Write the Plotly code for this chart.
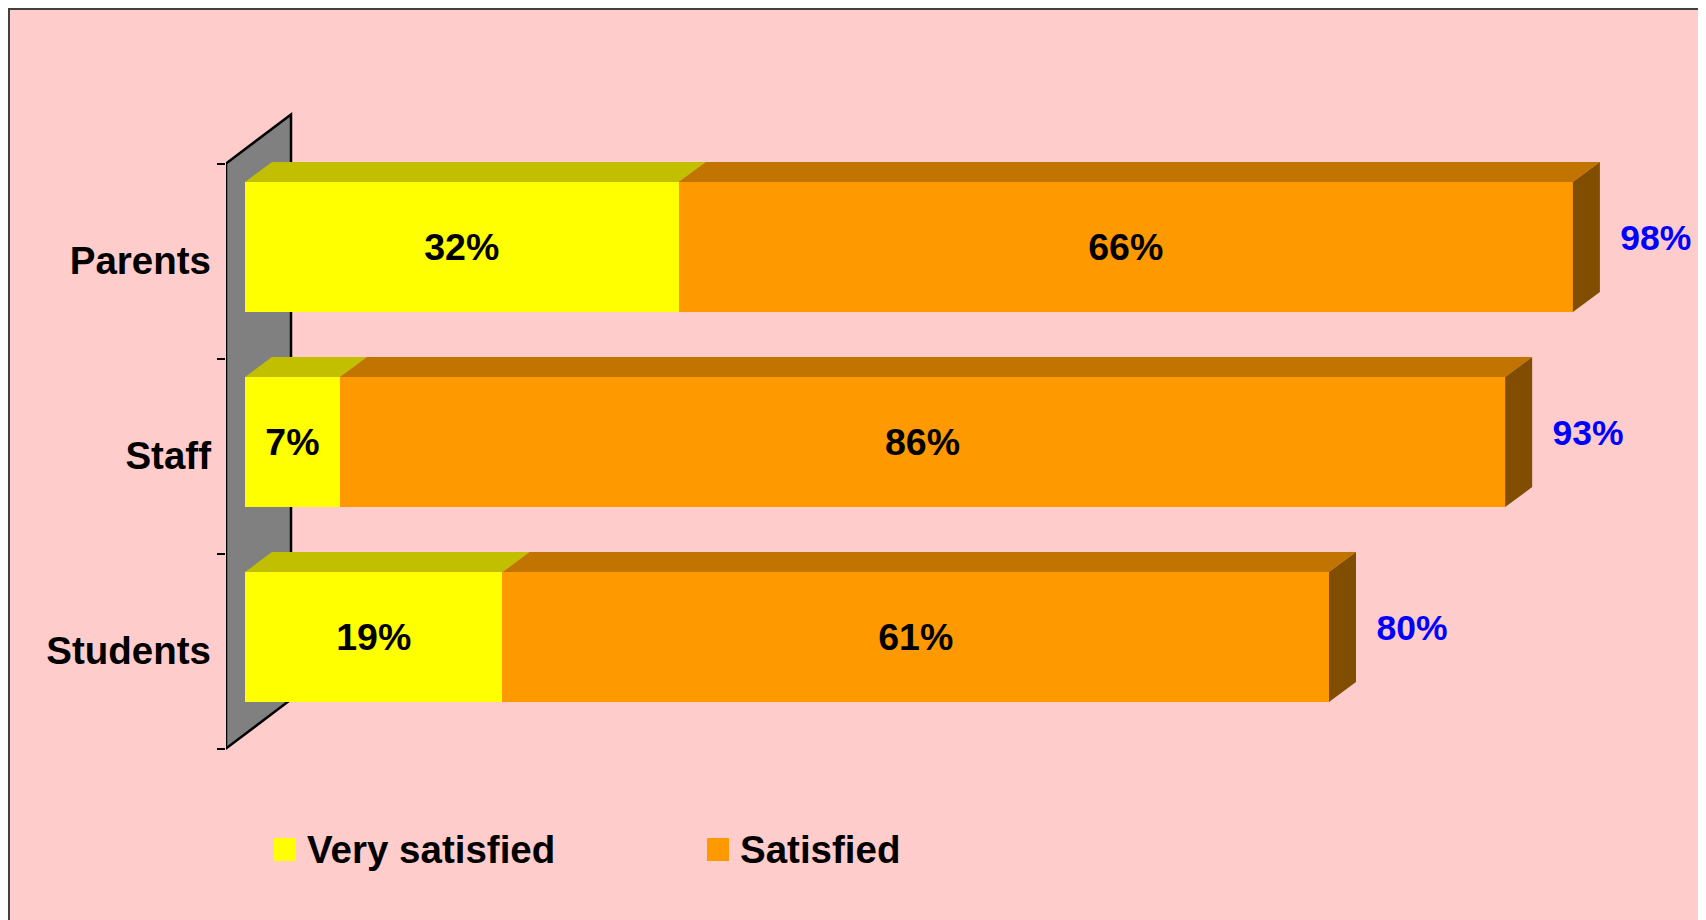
import plotly.graph_objects as go

# ---------------- data ----------------
categories = ["Students", "Staff", "Parents"]
very_satisfied = [19, 7, 32]
satisfied = [61, 86, 66]
series_names = ["Very satisfied", "Satisfied"]
totals = [a + b for a, b in zip(very_satisfied, satisfied)]

# ---------------- styling / layout constants ----------------
FONT = "Liberation Sans, Arial, sans-serif"
FS_AXIS = 38.5
FS_BAR = 37.5
FS_TOTAL = 35.5
C_YEL, C_YEL_TOP = "#FFFF00", "#C2BE00"
C_ORA, C_ORA_TOP, C_ORA_SIDE = "#FF9900", "#C17400", "#814D00"
C_WALL = "#808080"
C_BG = "#FFCCCC"

PAGE_OFF = 8                      # browser body margin
W, H = 1706 - PAGE_OFF, 920 - PAGE_OFF
ML, MR, MT, MB = 218, 6, 52, 120
PW, PH = W - ML - MR, H - MT - MB

PX0, PXU = 245.0 - PAGE_OFF, 13.55      # figure pixel of 0 %, pixels per 1 %
PY0, PYU = 651.0 - PAGE_OFF, 195.0      # figure pixel of first category centre, px per category
x_range = [(ML - PX0) / PXU, (W - MR - PX0) / PXU]
y_range = [(PY0 - (MT + PH)) / PYU, (PY0 - MT) / PYU]

pos = list(range(len(categories)))
BAR_W, BAR_OFF = 0.667, -0.262
DX, DY = 27 / PXU, 20 / PYU          # bar depth
WDX, WDY = 65 / PXU, 49 / PYU        # wall depth


def pxp(px_page):
    return (px_page - PAGE_OFF - ML) / PW


def pyp(py_page):
    return (MT + PH - (py_page - PAGE_OFF)) / PH


fig = go.Figure()

# front faces
for vals, base_color, name in [(very_satisfied, C_YEL, series_names[0]),
                               (satisfied, C_ORA, series_names[1])]:
    fig.add_trace(go.Bar(
        y=pos, x=vals, orientation="h", name=name,
        width=BAR_W, offset=BAR_OFF,
        marker=dict(color=base_color, line=dict(width=0)),
        text=[f"{v}%" for v in vals], textposition="inside",
        insidetextanchor="middle", textangle=0,
        textfont=dict(family=FONT, size=FS_BAR, color="black", weight="bold"),
        hoverinfo="skip", showlegend=False,
    ))


def top_faces(starts, ends):
    xs, ys = [], []
    for p, a, b in zip(pos, starts, ends):
        yt = p + BAR_OFF + BAR_W
        xs += [a, b, b + DX, a + DX, a, None]
        ys += [yt, yt, yt + DY, yt + DY, yt, None]
    return xs, ys


for (starts, ends, col) in [([0] * len(pos), very_satisfied, C_YEL_TOP),
                            (very_satisfied, totals, C_ORA_TOP)]:
    xs, ys = top_faces(starts, ends)
    fig.add_trace(go.Scatter(x=xs, y=ys, mode="lines", fill="toself",
                             fillcolor=col, line=dict(width=0, color=col),
                             hoverinfo="skip", showlegend=False))

# side faces
xs, ys = [], []
for p, e in zip(pos, totals):
    yb = p + BAR_OFF
    yt = yb + BAR_W
    xs += [e, e + DX, e + DX, e, e, None]
    ys += [yb, yb + DY, yt + DY, yt, yb, None]
fig.add_trace(go.Scatter(x=xs, y=ys, mode="lines", fill="toself",
                         fillcolor=C_ORA_SIDE, line=dict(width=0, color=C_ORA_SIDE),
                         hoverinfo="skip", showlegend=False))

# totals
fig.add_trace(go.Scatter(
    x=[t + 3.5 for t in totals], y=[p + 0.1 for p in pos], mode="text",
    text=[f"{t}%" for t in totals], textposition="middle right",
    textfont=dict(family=FONT, size=FS_TOTAL, color="#0000FF", weight="bold"),
    cliponaxis=False, hoverinfo="skip", showlegend=False,
))

shapes = [
    # chart frame
    dict(type="rect", xref="paper", yref="paper", layer="below",
         x0=pxp(9), x1=pxp(1703), y0=pyp(935), y1=pyp(9),
         fillcolor=C_BG, line=dict(color="#404040", width=2)),
    # back wall
    dict(type="path", xref="x", yref="y", layer="below",
         path=(f"M {x_range[0]},{pos[0] - 0.5} L {x_range[0]},{pos[-1] + 0.5} "
               f"L {x_range[0] + WDX},{pos[-1] + 0.5 + WDY} "
               f"L {x_range[0] + WDX},{pos[0] - 0.5 + WDY} Z"),
         fillcolor=C_WALL, line=dict(color="black", width=2.5)),
]

# legend (square swatches sized like the original)
annotations = []
leg_items = [(series_names[0], C_YEL, 274), (series_names[1], C_ORA, 707)]
for name, col, x0 in leg_items:
    shapes.append(dict(type="rect", xref="paper", yref="paper",
                       x0=pxp(x0), x1=pxp(x0 + 22), y0=pyp(861), y1=pyp(838),
                       fillcolor=col, line=dict(width=0)))
    annotations.append(dict(xref="paper", yref="paper", x=pxp(x0 + 31), y=pyp(849),
                            xanchor="left", yanchor="middle", showarrow=False,
                            text=name,
                            font=dict(family=FONT, size=FS_AXIS, color="black",
                                      weight="bold")))

fig.update_layout(
    width=W, height=H,
    margin=dict(l=ML, r=MR, t=MT, b=MB, autoexpand=False),
    paper_bgcolor="white", plot_bgcolor="rgba(0,0,0,0)",
    barmode="stack", showlegend=False,
    shapes=shapes, annotations=annotations,
    xaxis=dict(range=x_range, showgrid=False, zeroline=False, showline=False,
               showticklabels=False, ticks="", automargin=False, fixedrange=True),
    yaxis=dict(range=y_range, tickmode="array", tickvals=pos, ticktext=categories,
               ticks="", showgrid=False, zeroline=False, showline=False,
               automargin=False, fixedrange=True, ticklabelstandoff=14,
               tickfont=dict(family=FONT, size=FS_AXIS, color="black", weight="bold"),
               minor=dict(tickmode="array",
                          tickvals=[p - 0.5 for p in pos] + [pos[-1] + 0.5],
                          ticks="outside", ticklen=8, tickwidth=2,
                          tickcolor="black", showgrid=False)),
)

fig.write_html("out.html")
